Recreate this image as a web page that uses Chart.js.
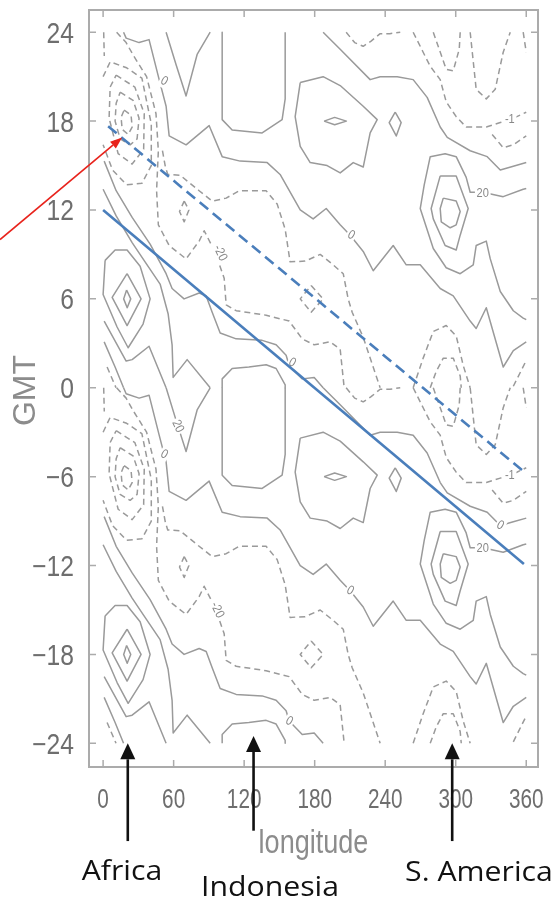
<!DOCTYPE html>
<html><head><meta charset="utf-8">
<script src="https://cdn.jsdelivr.net/npm/chart.js@4.4.0/dist/chart.umd.min.js"></script>
<style>html,body{margin:0;padding:0;background:#fff;}canvas{display:block;}</style>
</head><body>
<canvas id="c" width="559" height="898"></canvas>
<script>
// ---------- axes ----------
const lonTicks = [0, 60, 120, 180, 240, 300, 360];
const gmtTicks = [-24, -18, -12, -6, 0, 6, 12, 18, 24];
// The figure shows the same diurnal cycle twice: GMT -24..0 and again 0..24.
const DAY = 24;

// ---------- positive (solid) contours, one day, [longitude, GMT] ----------
const africaMaxInner = [[20,-17.4],[23.5,-18],[20.5,-18.6],[17.5,-18],[20,-17.4]];
const africaMaxMid = [[20.4,-16.3],[32.3,-18],[20.4,-19.8],[7.7,-17.9],[20.4,-16.3]];
const africaMaxOuter = [[1.7,-15.4],[10.2,-14.7],[20.4,-14.7],[31.5,-15.8],[40,-18],[34,-19.7],[21.3,-21.3],[11.9,-19.9],[0,-17.7],[1.7,-15.4]];
const lineB1 = [[0.9,-8.7],[11.1,-10.7],[24.7,-12.5],[40,-14.3],[53.6,-16.3],[58.7,-17.3],[68.9,-18],[81.7,-17.6],[87.7,-17.8],[92.8,-18.9],[99.6,-20.3],[113.2,-20.7],[135.3,-20.8],[147.2,-21.1],[155.7,-21.8],[158.3,-22.5],[169.4,-23.4],[179.6,-23.3],[187.2,-24]];
const lineB1East = [[187.2,0],[201.7,-1.15],[227.2,-3.2],[235.7,-3.0],[250.2,-3.0],[263.8,-3.2],[275.7,-4.4],[286.8,-6.4],[292.8,-7.1],[312.3,-8.0],[326.8,-8.4],[337.9,-9.3],[349,-9.05],[360,-8.8]];
const lineB2 = [[0,-10.6],[11.1,-12.4],[24.7,-14.2],[35.7,-15.5],[48.5,-17.0],[55.3,-19.0],[58.7,-21.1],[59.6,-23.3],[71.5,-22.1],[91.1,-24]];
const lineZ1 = [[0.9,-19.5],[19.6,-22.2],[24.7,-22.1],[39.1,-21.2],[53.6,-24]];
const lineZ2 = [[0.9,-20.9],[10.2,-22.6],[17.4,-24]];
const lineV = [[53.6,0],[62.1,-2.2],[70.6,-4.3],[80,-1.5],[91.1,0]];
const lineE = [[17.4,0],[19.6,-0.4],[30.6,-0.7],[39.1,-0.5],[47.7,-3.2],[53.6,-5.0],[56.2,-7.0],[70.6,-7.6],[90.2,-6.3],[101.3,-8.4],[116.6,-8.7],[139.6,-8.8],[150.6,-9.6],[167.7,-12.0],[178.7,-12.6],[189.8,-11.9],[201.7,-13.0],[210.2,-13.7],[221.3,-14.8],[229.8,-16.1],[246.8,-14.4],[257.9,-15.7],[269.8,-15.7],[286.8,-17.3],[297.9,-17.8],[312.3,-19.5],[317.4,-20],[326,-18.6],[340.4,-22.6],[349,-21.5],[360,-20.9]];
const indoBox = [[101.3,0],[101.3,-5.9],[109.8,-6.6],[135.3,-6.8],[152.3,-5.9],[154.9,-4.5],[154.9,0]];
const indoBoxTop = [[101.3,-24],[101.3,-23.4],[109.8,-22.7],[124,-22.6],[138.7,-22.45],[147.2,-22.7],[154.9,-23.8],[154.9,-24]];
const pacificOct = [[167.7,-3.4],[187.2,-3.0],[201.7,-3.6],[221.3,-5.0],[233.2,-5.9],[227.2,-6.8],[221.3,-9.1],[212.8,-8.8],[201.7,-9.5],[190.6,-9.0],[176.2,-8.8],[167.7,-7.7],[163.4,-5.7],[167.7,-3.4]];
const pacificInner = [[188,-6],[197,-5.75],[207,-6],[197,-6.25],[188,-6]];
const pacificDiamond = [[248.5,-5.4],[253.6,-6.1],[249.4,-7.0],[243.4,-6.1],[248.5,-5.4]];
const samMaxInner = [[289.4,-11.2],[300.4,-11.4],[303.8,-12.1],[300.4,-13.0],[295.3,-13.2],[287.7,-12.8],[286.8,-11.9],[289.4,-11.2]];
const samMaxMid = [[286.8,-9.7],[300.4,-9.7],[310.6,-11.9],[303.8,-13.7],[300.4,-14.7],[291,-14.4],[280.9,-12.6],[279.1,-11.9],[286.8,-9.7]];
const samMaxOuter = [[360,-10.55],[357.4,-10.6],[340.4,-11.1],[323,-10.8],[312.3,-10.8],[308.9,-9.8],[300.4,-8.4],[291,-8.2],[278.3,-8.4],[273.2,-10.3],[269.8,-11.9],[280.9,-14.6],[291.9,-15.9],[303.8,-16.3],[314.9,-15.7],[317.4,-14.4],[326,-14.1],[329.4,-15.3],[337.9,-17.5],[349,-18.8],[357.4,-19.3],[360,-19.4]];

// ---------- negative (dashed) contours ----------
const africaMin1 = [[17.9,-5.25],[23.8,-5.6],[24.7,-6.4],[21.3,-6.9],[16.2,-6.55],[15.3,-5.75],[17.9,-5.25]];
const africaMin2 = [[14.5,-4.05],[25.5,-4.6],[30.6,-5.8],[28.9,-7.2],[23,-7.6],[14.5,-7.2],[10.2,-6.0],[11.1,-4.8],[14.5,-4.05]];
const africaMin3 = [[11.1,-2.9],[27,-3.7],[35,-5.5],[34.5,-7.9],[24.7,-8.9],[12.8,-8.2],[5.1,-5.8],[6,-3.7],[11.1,-2.9]];
const africaMin4 = [[0,-3.0],[6,-2.0],[20,-2.4],[33,-3.1],[41,-6.2],[41,-9.0],[33,-10.2],[20,-10.3],[8,-9.3],[0,-7.6]];
const africaMin5 = [[11.5,0],[19.6,-0.7],[26,-1.6],[37,-3.0],[45,-5.5],[47,-8.0],[45.5,-10.7],[47,-13.0],[56.2,-14.4],[70.6,-15.3],[81.7,-14.1],[86,-13.4],[95,-14.8],[103,-16.6],[104.7,-18.4],[113.2,-18.8],[138.7,-19.1],[158.3,-19.5],[169.4,-20.7],[179.6,-21.1],[193.2,-20.9],[201.7,-21.4],[205.1,-24]];
const africaMinTail = [[3.4,-22.6],[11,-24]];
const zeroDash = [[50.5,-8.0],[53,-9.1],[55,-9.6],[65.5,-9.65],[81.7,-10.7],[92.8,-11.4],[104.7,-11.2],[115.7,-10.7],[138.7,-10.7],[148.1,-11.6],[154.9,-13.3],[159.1,-15.5],[171.9,-15.45],[184.7,-15.0],[195.7,-15.7],[204.3,-16.3],[208.5,-18.0],[211.9,-18.9],[221.3,-20.6],[235.7,-24]];
const smallLoopA = [[69,-11.4],[73,-12.0],[69,-12.8],[65,-12.1],[69,-11.4]];
const smallLoopB = [[177,-17.1],[187.2,-18],[177,-18.9],[167.7,-18],[177,-17.1]];
const samMinOuter = [[263.8,-24],[272.3,-22],[280.9,-20.2],[291.9,-19.8],[300.4,-20.5],[306.4,-22.5],[312.3,-24]];
const samMinInner = [[278.3,-24],[283.4,-22.9],[289.4,-22],[297.9,-22],[303.8,-23.2],[304.7,-24]];
const eastDashA = [[206.8,0],[214,-0.7],[221.3,-0.95],[228,-0.6],[235.7,-0.1],[244,-0.1],[252.8,0]];
const eastDashB = [[280.9,0],[291.9,-2.5],[297.9,-2.6],[303,-1.15],[303.8,0]];
const eastDashC = [[263.8,0],[272.3,-1.35],[278.3,-2.3],[286.8,-3.2],[291.9,-4.7],[300.4,-5.7],[308.9,-6.4],[326,-6.4],[337.9,-6.1],[346,-5.9],[352,-5.7],[360,-5.4]];
const eastDashD = [[312.3,0],[317.4,-3.85],[326,-4.5],[333.6,-3.85],[340.4,-1.35],[346.4,0]];
const eastDashE = [[357.4,0],[360,-1.35]];
const eastDashF = [[331,-6.9],[340.4,-7.8],[349,-7.6],[360,-7.0]];
const edgeDashW = [[0.5,0],[1,-1.6]];
const edgeDashE = [[349,-23.9],[359.1,-22.3]];

const solidContours = [africaMaxInner, africaMaxMid, africaMaxOuter, lineB1, lineB1East, lineB2, lineZ1, lineZ2, lineV, lineE, indoBox, indoBoxTop, pacificOct, pacificInner, pacificDiamond, samMaxInner, samMaxMid, samMaxOuter];
const dashedContours = [africaMin1, africaMin2, africaMin3, africaMin4, africaMin5, africaMinTail, zeroDash, smallLoopA, smallLoopB, samMinOuter, samMinInner, eastDashA, eastDashB, eastDashC, eastDashD, eastDashE, eastDashF, edgeDashW, edgeDashE];

// contour value labels as printed on the figure [longitude, GMT, text]
const labelLon = [52, 63.5, 97, 158.3, 210.2, 323, 337.9, 346, 52, 99.6, 160.9, 211, 323, 346];
const labelGmt = [-4.5, -2.6, -15.0, -22.5, -13.7, -10.85, -9.3, -5.9, 20.7, 9.1, 1.7, 10.3, 13.1, 18.1];
const labelText = ['0', '20', '-20', '0', '0', '20', '0', '-1', '0', '-20', '0', '0', '20', '-1'];

// propagation lines (blue)
const propagationSolid = [[0,12],[358,-11.9]];
const propagationDashed = [[4.3,17.65],[360,-5.8]];

// annotations
const regionNames = ['Africa', 'Indonesia', 'S. America'];
const regionLon = [21, 128, 297];
const arrowTipGmt = [-24.0, -23.5, -24.0];
const arrowTailGmt = [-30.6, -29.9, -30.6];
const redArrow = [[-87.7, 10.0], [16.2, 16.9]];

// ---------- styles ----------
const GRAY = '#9a9a9a';
const BLUE = '#4a7ebb';
const SANS = '"Liberation Sans", Arial, sans-serif';
const labelAngles = [30, 65, 65, 30, 30, 0, 30, 0, 30, 65, 30, 30, 0, 0];

function pts(arr, shift) { return arr.map(p => ({x: p[0], y: p[1] + shift})); }

const datasets = [
  {data: pts(propagationSolid, 0), borderColor: BLUE, borderWidth: 2.6},
  {data: pts(propagationDashed, 0), borderColor: BLUE, borderWidth: 2.6, borderDash: [11, 6]}
];
for (const shift of [0, DAY]) {
  solidContours.forEach(c => datasets.push({data: pts(c, shift), borderColor: GRAY, borderWidth: 1.5}));
  dashedContours.forEach(c => datasets.push({data: pts(c, shift), borderColor: GRAY, borderWidth: 1.5, borderDash: [6, 4]}));
}
datasets.forEach(d => Object.assign(d, {showLine: true, pointRadius: 0, pointHoverRadius: 0, fill: false, borderJoinStyle: 'round', tension: 0}));

function narrowText(ctx, text, x, y, sx, align) {
  ctx.save(); ctx.translate(x, y); ctx.scale(sx, 1);
  ctx.textAlign = align; ctx.fillText(text, 0, 0); ctx.restore();
}

const decor = {
  id: 'decor',
  beforeDatasetDraw(chart, args) {
    if (args.index !== 1) return;
    const {ctx, scales: {x, y}} = chart;
    ctx.save();
    ctx.font = '13px ' + SANS;
    ctx.textAlign = 'center'; ctx.textBaseline = 'middle';
    labelText.forEach((t, i) => {
      const px = x.getPixelForValue(labelLon[i]);
      const py = y.getPixelForValue(labelGmt[i]);
      ctx.save(); ctx.translate(px, py); ctx.rotate(labelAngles[i] * Math.PI / 180); ctx.scale(0.85, 1);
      const w = ctx.measureText(t).width;
      ctx.fillStyle = '#fff'; ctx.fillRect(-w / 2 - 2, -7, w + 4, 14);
      ctx.fillStyle = '#888'; ctx.fillText(t, 0, 0);
      ctx.restore();
    });
    ctx.restore();
  },
  afterDraw(chart) {
    const {ctx, chartArea: a, scales: {x, y}} = chart;
    ctx.save();
    // frame and inward ticks
    ctx.strokeStyle = '#ababab'; ctx.lineWidth = 2;
    ctx.strokeRect(a.left, a.top, a.right - a.left, a.bottom - a.top);
    ctx.lineWidth = 1.5; ctx.beginPath();
    lonTicks.forEach(v => { const px = x.getPixelForValue(v);
      ctx.moveTo(px, a.bottom); ctx.lineTo(px, a.bottom - 7);
      ctx.moveTo(px, a.top); ctx.lineTo(px, a.top + 7); });
    gmtTicks.forEach(v => { const py = y.getPixelForValue(v);
      ctx.moveTo(a.left, py); ctx.lineTo(a.left + 7, py);
      ctx.moveTo(a.right, py); ctx.lineTo(a.right - 7, py); });
    ctx.stroke();
    // tick labels
    ctx.fillStyle = '#6e6e6e'; ctx.textBaseline = 'alphabetic';
    ctx.font = '29px ' + SANS;
    gmtTicks.forEach(v => narrowText(ctx, String(v).replace('-', '\u2212'), a.left - 15, y.getPixelForValue(v) + 10.5, 0.85, 'right'));
    ctx.font = '28px ' + SANS;
    lonTicks.forEach(v => narrowText(ctx, String(v), x.getPixelForValue(v), 808, 0.74, 'center'));
    // axis titles
    ctx.fillStyle = '#8c8c8c';
    ctx.font = '33px ' + SANS;
    narrowText(ctx, 'longitude', (a.left + a.right) / 2, 853, 0.82, 'center');
    ctx.save(); ctx.translate(35, (a.top + a.bottom) / 2 + 2); ctx.rotate(-Math.PI / 2);
    ctx.font = '32px ' + SANS; ctx.textAlign = 'center'; ctx.fillText('GMT', 0, 0); ctx.restore();
    // red arrow
    const rx0 = x.getPixelForValue(redArrow[0][0]), ry0 = y.getPixelForValue(redArrow[0][1]);
    const rx1 = x.getPixelForValue(redArrow[1][0]), ry1 = y.getPixelForValue(redArrow[1][1]);
    drawArrow(ctx, rx0, ry0, rx1, ry1, '#e8231c', 1.6, 12, 9);
    // region arrows and names
    regionNames.forEach((n, i) => {
      const px = x.getPixelForValue(regionLon[i]);
      drawArrow(ctx, px, y.getPixelForValue(arrowTailGmt[i]), px, y.getPixelForValue(arrowTipGmt[i]), '#111', 2.6, 16, 15);
    });
    const nameX = [122, 270, 479];
    const baselines = [880, 896, 881];
    ctx.fillStyle = '#111'; ctx.font = '27px "Open Sans", "Noto Sans", sans-serif';
    regionNames.forEach((n, i) => narrowText(ctx, n, nameX[i], baselines[i], 1.12, 'center'));
    ctx.restore();
  }
};

function drawArrow(ctx, x0, y0, x1, y1, color, lw, headLen, headW) {
  const ang = Math.atan2(y1 - y0, x1 - x0);
  const bx = x1 - headLen * Math.cos(ang), by = y1 - headLen * Math.sin(ang);
  ctx.strokeStyle = color; ctx.fillStyle = color; ctx.lineWidth = lw;
  ctx.beginPath(); ctx.moveTo(x0, y0); ctx.lineTo(bx, by); ctx.stroke();
  ctx.beginPath(); ctx.moveTo(x1, y1);
  ctx.lineTo(bx + headW / 2 * Math.sin(ang), by - headW / 2 * Math.cos(ang));
  ctx.lineTo(bx - headW / 2 * Math.sin(ang), by + headW / 2 * Math.cos(ang));
  ctx.closePath(); ctx.fill();
}

new Chart(document.getElementById('c'), {
  type: 'scatter',
  data: {datasets},
  options: {
    responsive: false, devicePixelRatio: 1, animation: false,
    layout: {padding: {left: 0, top: 10, right: 21, bottom: 0}},
    plugins: {legend: {display: false}, tooltip: {enabled: false}},
    scales: {
      x: {
        type: 'linear', min: -12, max: 370,
        afterBuildTicks: s => { s.ticks = lonTicks.map(v => ({value: v})); },
        afterFit: s => { s.height = 131; },
        grid: {display: false}, border: {display: false},
        ticks: {display: false}
      },
      y: {
        type: 'linear', min: -25.6, max: 25.5,
        afterBuildTicks: s => { s.ticks = gmtTicks.map(v => ({value: v})); },
        afterFit: s => { s.width = 89; },
        grid: {display: false}, border: {display: false},
        ticks: {display: false}
      }
    }
  },
  plugins: [decor]
});
</script>
</body></html>
